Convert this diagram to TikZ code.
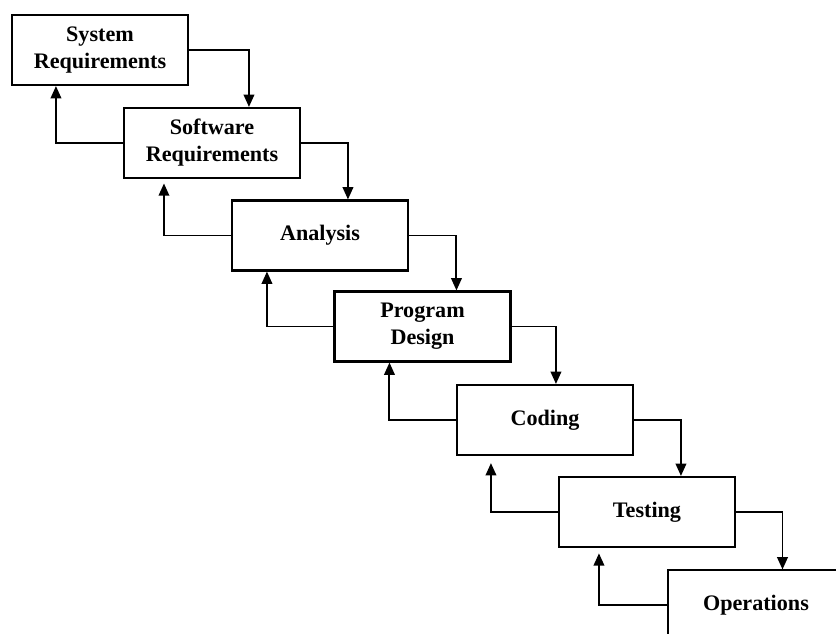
\documentclass[tikz,border=0pt]{standalone}
\usepackage{fontspec}
\setmainfont{Liberation Serif}
\usepackage{tikz}
\usetikzlibrary{positioning}
\usetikzlibrary{calc}
\usetikzlibrary{arrows.meta}
\begin{document}
\begin{tikzpicture}[x=0.02cm,y=-0.02cm,
  stage/.style={draw,line width=1.2pt,minimum width=3.52cm,minimum height=1.4cm,inner sep=0pt,align=center,font=\fontsize{12.6}{15.4}\selectfont\bfseries},
  flow/.style={line width=1.1pt,-{Triangle[length=7pt,width=6pt]}}]
\clip (0,0) rectangle (836,633);
\node[stage] (sysreq) at (100,50) {System\\Requirements};
\node[stage] (swreq) at (212,143) {Software\\Requirements};
\node[stage] (anal) at (320,235.5) {Analysis};
\node[stage] (pdes) at (422.5,326.5) {Program\\Design};
\node[stage] (cod) at (545,420) {Coding};
\node[stage] (tst) at (647,512) {Testing};
\node[stage,line width=0.6pt] (ops) at (756,605) {Operations};
\draw[flow] (sysreq.east) -| ($(swreq.north west)+(126,0)$);
\draw[flow] (swreq.east) -| ($(anal.north west)+(117,0)$);
\draw[flow] (anal.east) -| ($(pdes.north west)+(123,0)$);
\draw[flow] (pdes.east) -| ($(cod.north west)+(100,0)$);
\draw[flow] (cod.east) -| ($(tst.north west)+(123,0)$);
\draw[flow] (tst.east) -| ($(ops.north west)+(115,0)$);
\draw[flow] (swreq.west) -| ($(sysreq.south west)+(45,0)$);
\draw[flow,shorten >=2.5pt] (anal.west) -| ($(swreq.south west)+(41,0)$);
\draw[flow] (pdes.west) -| ($(anal.south west)+(36,0)$);
\draw[flow] (cod.west) -| ($(pdes.south west)+(56,0)$);
\draw[flow,shorten >=4pt] (tst.west) -| ($(cod.south west)+(35,0)$);
\draw[flow,shorten >=3pt] (ops.west) -| ($(tst.south west)+(41,0)$);
\end{tikzpicture}
\end{document}
